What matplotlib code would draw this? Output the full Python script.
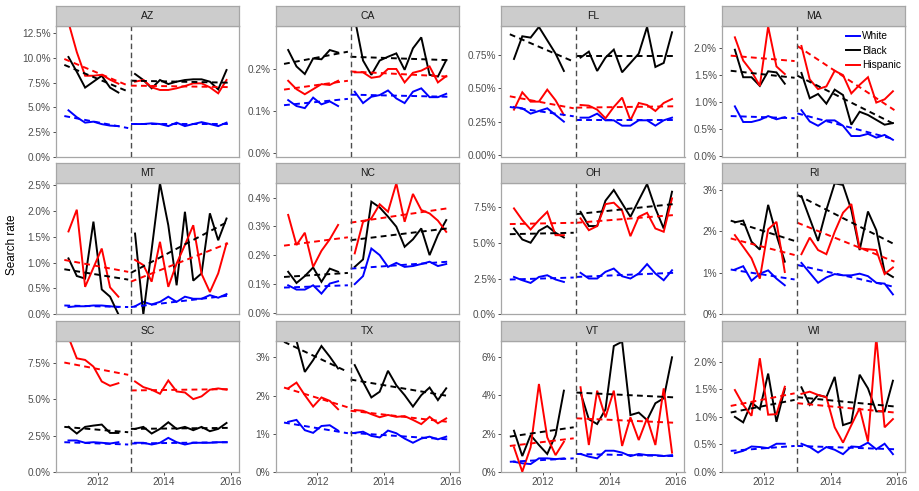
import matplotlib
matplotlib.use("Agg")
import matplotlib.pyplot as plt
from matplotlib.ticker import FixedLocator, FuncFormatter

plt.rcParams['font.family'] = ['Liberation Sans', 'DejaVu Sans']

# ---------------- data ----------------
states = ['AZ', 'CA', 'FL', 'MA', 'MT', 'NC', 'OH', 'RI', 'SC', 'TX', 'VT', 'WI']
races = ['White', 'Black', 'Hispanic']

quarters_pre = [2011.125, 2011.375, 2011.625, 2011.875, 2012.125, 2012.375, 2012.625]
quarters_post = [2013.125, 2013.375, 2013.625, 2013.875, 2014.125, 2014.375,
                 2014.625, 2014.875, 2015.125, 2015.375, 2015.625, 2015.875]
fit_x_pre = [2011.0, 2012.92]
fit_x_post = [2013.0, 2015.92]
break_year = 2013.0

# quarterly search rates (%): 7 pre-2013 values then 12 post-2013 values
white = {
    'AZ': [4.7, 4.0, 3.45, 3.55, 3.3, 3.15, 3.1,
           3.31, 3.31, 3.38, 3.31, 3.1, 3.45, 3.1, 3.31, 3.5, 3.31, 3.1, 3.45],
    'CA': [0.126, 0.112, 0.107, 0.132, 0.116, 0.123, 0.112,
           0.146, 0.119, 0.134, 0.138, 0.149, 0.13, 0.119, 0.146, 0.154, 0.133, 0.133, 0.141],
    'FL': [0.36, 0.35, 0.31, 0.33, 0.35, 0.30, 0.25,
           0.28, 0.28, 0.31, 0.26, 0.26, 0.22, 0.22, 0.26, 0.26, 0.22, 0.26, 0.28],
    'MA': [0.92, 0.63, 0.63, 0.67, 0.74, 0.68, 0.72,
           0.85, 0.64, 0.56, 0.66, 0.66, 0.56, 0.37, 0.37, 0.41, 0.34, 0.39, 0.30],
    'MT': [0.14, 0.155, 0.155, 0.17, 0.17, 0.155, 0.14,
           0.155, 0.24, 0.19, 0.24, 0.34, 0.24, 0.34, 0.30, 0.30, 0.37, 0.32, 0.39],
    'NC': [0.095, 0.08, 0.08, 0.095, 0.066, 0.101, 0.109,
           0.099, 0.127, 0.223, 0.2, 0.159, 0.173, 0.159, 0.162, 0.169, 0.177, 0.162, 0.169],
    'OH': [2.62, 2.39, 2.2, 2.62, 2.74, 2.44, 2.27,
           2.91, 2.51, 2.51, 2.98, 3.21, 2.67, 2.51, 2.86, 3.52, 2.86, 2.39, 3.09],
    'RI': [1.08, 1.16, 0.81, 0.98, 1.06, 0.86, 0.7,
           1.24, 1.0, 0.76, 0.89, 0.97, 0.94, 0.94, 0.98, 0.92, 0.76, 0.74, 0.48],
    'SC': [2.16, 2.16, 2.0, 2.04, 2.0, 1.95, 2.04,
           2.0, 2.0, 1.88, 2.0, 2.34, 2.04, 1.88, 2.0, 2.0, 2.0, 2.04, 2.04],
    'TX': [1.31, 1.36, 1.09, 1.02, 1.2, 1.22, 1.08,
           1.02, 1.05, 0.94, 0.9, 1.08, 1.01, 0.87, 0.76, 0.87, 0.92, 0.85, 0.92],
    'VT': [0.52, 0.44, 0.4, 0.7, 0.7, 0.66, 0.7,
           0.93, 0.79, 0.7, 1.1, 1.1, 1.0, 0.82, 0.93, 0.87, 0.87, 0.82, 0.87],
    'WI': [0.34, 0.38, 0.46, 0.45, 0.43, 0.51, 0.51,
           0.51, 0.45, 0.35, 0.45, 0.4, 0.32, 0.46, 0.45, 0.53, 0.41, 0.51, 0.32],
}
black = {
    'AZ': [10.1, 8.6, 7.0, 7.6, 8.2, 7.0, 6.5,
           8.38, 7.77, 6.93, 7.77, 7.36, 7.6, 7.77, 7.84, 7.84, 7.6, 6.82, 8.78],
    'CA': [0.245, 0.206, 0.188, 0.225, 0.223, 0.245, 0.239,
           0.32, 0.22, 0.186, 0.22, 0.229, 0.237, 0.198, 0.249, 0.275, 0.186, 0.182, 0.221],
    'FL': [0.72, 0.89, 0.88, 0.96, 0.86, 0.76, 0.63,
           0.73, 0.775, 0.63, 0.73, 0.79, 0.62, 0.69, 0.76, 0.96, 0.66, 0.69, 0.92],
    'MA': [1.97, 1.46, 1.46, 1.30, 1.57, 1.55, 1.34,
           1.54, 1.07, 1.15, 0.97, 1.23, 1.13, 0.58, 0.82, 0.76, 0.67, 0.58, 0.61],
    'MT': [1.08, 0.74, 0.69, 1.79, 0.48, 0.34, 0.0,
           1.56, 0.0, 1.25, 2.53, 1.72, 0.56, 1.98, 0.65, 0.79, 1.95, 1.43, 1.85],
    'NC': [0.142, 0.103, 0.127, 0.157, 0.107, 0.153, 0.142,
           0.159, 0.185, 0.386, 0.366, 0.334, 0.299, 0.229, 0.255, 0.293, 0.2, 0.27, 0.322],
    'OH': [6.02, 5.25, 5.02, 5.86, 6.19, 5.72, 5.39,
           7.19, 6.19, 6.19, 7.97, 8.72, 7.78, 6.84, 8.0, 9.14, 7.43, 6.02, 8.6],
    'RI': [2.22, 2.26, 1.75, 1.56, 2.64, 1.91, 1.27,
           2.85, 2.31, 1.77, 2.52, 3.16, 3.12, 2.52, 1.55, 2.48, 2.03, 1.02, 0.9],
    'SC': [3.1, 2.64, 3.1, 3.19, 3.26, 2.68, 2.68,
           2.96, 3.1, 2.64, 2.96, 3.42, 2.96, 3.1, 2.87, 3.1, 2.8, 2.96, 3.37],
    'TX': [3.5, 3.44, 2.62, 2.93, 3.3, 3.02, 2.71,
           2.8, 2.36, 1.95, 2.1, 2.65, 2.27, 2.01, 1.71, 2.01, 2.21, 1.88, 2.19],
    'VT': [2.15, 0.82, 1.92, 1.4, 0.93, 1.92, 4.25,
           4.15, 2.75, 2.5, 3.27, 6.59, 6.82, 2.97, 3.1, 2.71, 3.59, 3.85, 6.0],
    'WI': [1.0, 0.9, 1.26, 1.14, 1.79, 0.91, 1.51,
           1.54, 1.22, 1.4, 1.36, 1.73, 0.85, 0.9, 1.77, 1.52, 1.1, 1.1, 1.66],
}
hispanic = {
    'AZ': [13.6, 10.6, 8.2, 8.2, 8.3, 7.8, 7.4,
           7.6, 7.77, 7.03, 6.76, 6.76, 6.93, 7.16, 7.43, 7.43, 7.03, 6.42, 7.77],
    'CA': [0.172, 0.152, 0.14, 0.152, 0.164, 0.162, 0.172,
           0.192, 0.192, 0.179, 0.182, 0.2, 0.2, 0.168, 0.191, 0.196, 0.206, 0.168, 0.183],
    'FL': [0.34, 0.47, 0.40, 0.40, 0.49, 0.41, 0.30,
           0.375, 0.37, 0.34, 0.275, 0.36, 0.43, 0.26, 0.39, 0.375, 0.33, 0.39, 0.42],
    'MA': [2.2, 1.77, 1.57, 1.30, 2.4, 1.66, 1.52,
           2.04, 1.42, 1.24, 1.29, 1.58, 1.5, 1.16, 1.32, 1.46, 0.99, 1.05, 1.2],
    'MT': [1.6, 2.02, 0.53, 0.9, 1.27, 0.52, 0.34,
           1.05, 0.95, 0.63, 1.4, 0.53, 0.98, 1.34, 1.72, 0.78, 0.43, 0.79, 1.37],
    'NC': [0.34, 0.235, 0.278, 0.159, 0.215, 0.255, 0.305,
           0.206, 0.316, 0.328, 0.377, 0.351, 0.45, 0.316, 0.413, 0.357, 0.345, 0.32, 0.281],
    'OH': [7.43, 6.61, 5.95, 6.61, 7.19, 5.55, 5.55,
           6.73, 5.9, 6.19, 7.73, 7.83, 7.27, 5.48, 6.84, 7.12, 6.02, 5.79, 8.13],
    'RI': [1.91, 1.63, 1.35, 0.86, 2.05, 2.23, 1.02,
           1.45, 1.85, 1.55, 1.45, 1.99, 2.45, 2.66, 1.59, 1.57, 1.55, 0.97, 1.13],
    'SC': [9.3, 7.84, 7.73, 7.27, 6.24, 5.94, 6.12,
           6.24, 5.85, 5.67, 5.39, 6.31, 5.55, 5.48, 5.02, 5.21, 5.67, 5.76, 5.67],
    'TX': [2.19, 2.34, 2.01, 1.71, 1.95, 1.86, 1.64,
           1.62, 1.6, 1.51, 1.43, 1.49, 1.44, 1.46, 1.36, 1.25, 1.44, 1.27, 1.4],
    'VT': [1.28, 0.0, 1.28, 4.6, 1.8, 0.87, 1.57,
           4.43, 1.4, 4.25, 2.85, 4.25, 1.35, 2.85, 1.66, 2.8, 1.4, 4.37, 1.0],
    'WI': [1.49, 1.22, 1.02, 2.07, 1.04, 1.05, 1.55,
           1.42, 1.46, 1.4, 1.36, 0.81, 0.53, 0.85, 1.16, 0.55, 2.45, 0.81, 0.96],
}

# linear trend endpoints: [pre start, pre end, post start, post end]
white_fit = {
    'AZ': [4.12, 2.9, 3.3, 3.3], 'CA': [0.114, 0.129, 0.139, 0.134],
    'FL': [0.36, 0.29, 0.265, 0.265], 'MA': [0.74, 0.70, 0.79, 0.31],
    'MT': [0.17, 0.14, 0.14, 0.36], 'NC': [0.087, 0.095, 0.153, 0.177],
    'OH': [2.44, 2.58, 2.62, 2.91], 'RI': [1.08, 0.84, 1.19, 0.66],
    'SC': [2.04, 1.88, 1.95, 2.04], 'TX': [1.29, 1.01, 1.02, 0.85],
    'VT': [0.52, 0.7, 0.93, 0.82], 'WI': [0.38, 0.47, 0.47, 0.41],
}
black_fit = {
    'AZ': [9.3, 6.6, 7.7, 7.5], 'CA': [0.212, 0.241, 0.229, 0.221],
    'FL': [0.905, 0.70, 0.74, 0.74], 'MA': [1.58, 1.45, 1.49, 0.59],
    'MT': [0.87, 0.67, 0.80, 1.79], 'NC': [0.124, 0.138, 0.252, 0.293],
    'OH': [5.62, 5.72, 7.03, 7.73], 'RI': [2.26, 1.77, 2.88, 1.69],
    'SC': [3.1, 2.73, 2.96, 3.03], 'TX': [3.41, 2.62, 2.42, 1.99],
    'VT': [1.84, 2.33, 4.15, 3.9], 'WI': [1.08, 1.31, 1.36, 1.19],
}
hispanic_fit = {
    'AZ': [9.9, 7.2, 7.2, 7.05], 'CA': [0.151, 0.172, 0.194, 0.182],
    'FL': [0.44, 0.35, 0.355, 0.365], 'MA': [1.86, 1.76, 2.04, 0.85],
    'MT': [1.05, 0.82, 0.63, 1.37], 'NC': [0.233, 0.262, 0.313, 0.363],
    'OH': [6.33, 6.42, 6.42, 6.96], 'RI': [1.83, 1.43, 2.21, 1.27],
    'SC': [7.55, 6.7, 5.62, 5.71], 'TX': [2.21, 1.69, 1.6, 1.31],
    'VT': [1.35, 1.75, 2.8, 2.57], 'WI': [1.2, 1.43, 1.25, 1.08],
}

y_limits = {
    'AZ': (-0.03, 13.24), 'CA': (-0.009, 0.302), 'FL': (-0.015, 0.967),
    'MA': (-0.019, 2.41), 'MT': (0.0, 2.53), 'NC': (-0.006, 0.45),
    'OH': (0.0, 9.19), 'RI': (0.0, 3.16), 'SC': (0.0, 9.06),
    'TX': (0.0, 3.44), 'VT': (0.0, 6.87), 'WI': (0.0, 2.39),
}
y_ticks = {
    'AZ': [0, 2.5, 5, 7.5, 10, 12.5], 'CA': [0, 0.1, 0.2], 'FL': [0, 0.25, 0.5, 0.75],
    'MA': [0, 0.5, 1, 1.5, 2], 'MT': [0, 0.5, 1, 1.5, 2, 2.5], 'NC': [0, 0.1, 0.2, 0.3, 0.4],
    'OH': [0, 2.5, 5, 7.5], 'RI': [0, 1, 2, 3], 'SC': [0, 2.5, 5, 7.5],
    'TX': [0, 1, 2, 3], 'VT': [0, 2, 4, 6], 'WI': [0, 0.5, 1, 1.5, 2],
}
y_decimals = {'AZ': 1, 'CA': 1, 'FL': 2, 'MA': 1, 'MT': 1, 'NC': 1,
              'OH': 1, 'RI': 0, 'SC': 1, 'TX': 0, 'VT': 0, 'WI': 1}
x_ticks = [2012, 2014, 2016]
x_limits = (2010.75, 2016.25)

# ---------------- style / layout ----------------
colors = {'White': '#0000FF', 'Black': '#000000', 'Hispanic': '#FF0000'}
series = {'White': white, 'Black': black, 'Hispanic': hispanic}
fits = {'White': white_fit, 'Black': black_fit, 'Hispanic': hispanic_fit}

W, H = 920, 491
col_left = [56, 275.7, 501.5, 722.4]
row_top = [26, 183.3, 340.7]
pw, ph, sh = 183, 131, 20
border = '#A6A6A6'
tick_col = '#4D4D4D'

fig = plt.figure(figsize=(W / 100, H / 100), dpi=100)
fig.patch.set_facecolor('white')

handles = {}
for i, st in enumerate(states):
    r, c = divmod(i, 4)
    left = col_left[c] / W
    bottom = 1 - (row_top[r] + ph) / H
    ax = fig.add_axes([left, bottom, pw / W, ph / H])
    ax.set_xlim(*x_limits)
    ax.set_ylim(*y_limits[st])

    for race in races:
        vals = series[race][st]
        ln, = ax.plot(quarters_pre, vals[:7], color=colors[race], lw=1.4,
                      solid_joinstyle='miter', zorder=3)
        ax.plot(quarters_post, vals[7:], color=colors[race], lw=1.4,
                solid_joinstyle='miter', zorder=3)
        handles[race] = ln
    for race in races:
        f = fits[race][st]
        ax.plot(fit_x_pre, f[:2], color=colors[race], lw=1.4, dashes=(3, 2.2), zorder=4)
        ax.plot(fit_x_post, f[2:], color=colors[race], lw=1.4, dashes=(3, 2.2), zorder=4)

    ax.axvline(break_year, color='#4D4D4D', lw=1.0, dashes=(4, 2.5), zorder=5)

    for s in ax.spines.values():
        s.set_color(border)
        s.set_linewidth(0.9)

    dec = y_decimals[st]
    ax.yaxis.set_major_locator(FixedLocator(y_ticks[st]))
    ax.yaxis.set_major_formatter(FuncFormatter(lambda v, p, d=dec: f"{v:.{d}f}%"))
    ax.tick_params(axis='y', length=2.5, width=0.7, color=tick_col,
                   labelsize=7.2, labelcolor=tick_col, pad=1.5)
    ax.xaxis.set_major_locator(FixedLocator(x_ticks))
    if r == 2:
        ax.xaxis.set_major_formatter(FuncFormatter(lambda v, p: f"{int(v)}"))
        ax.tick_params(axis='x', length=2.5, width=0.7, color=tick_col,
                       labelsize=7.2, labelcolor=tick_col, pad=1.5)
    else:
        ax.tick_params(axis='x', length=0, labelbottom=False)

    # facet strip
    sax = fig.add_axes([left, 1 - row_top[r] / H, pw / W, sh / H])
    sax.set_facecolor('#CCCCCC')
    sax.set_xticks([])
    sax.set_yticks([])
    for s in sax.spines.values():
        s.set_color(border)
        s.set_linewidth(0.9)
    sax.text(0.5, 0.5, st, ha='center', va='center', fontsize=7.5,
             color='#1A1A1A', transform=sax.transAxes)

fig.text(12 / W, 1 - 245 / H, 'Search rate', rotation=90, ha='center',
         va='center', fontsize=8.5, color='#000000')

fig.legend([handles[r] for r in races], races, loc='center left',
           bbox_to_anchor=(846 / W, 1 - 50.7 / H), frameon=False,
           borderpad=0, borderaxespad=0, handlelength=1.35, handletextpad=0.25,
           labelspacing=0.45, fontsize=7.3)

fig.savefig('out.png', dpi=100)
